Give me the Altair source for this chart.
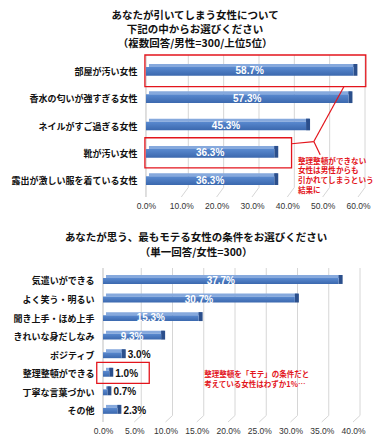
import altair as alt
import pandas as pd

# ---------------- data ----------------
top_title = ["あなたが引いてしまう女性について", "下記の中からお選びください", "（複数回答/男性=300/上位5位）"]
top_categories = ["部屋が汚い女性", "香水の匂いが強すぎる女性", "ネイルがすご過ぎる女性", "靴が汚い女性", "露出が激しい服を着ている女性"]
top_values = [58.7, 57.3, 45.3, 36.3, 36.3]
top_ticks = [0, 10, 20, 30, 40, 50, 60]
top_note = ["整理整頓ができない", "女性は男性からも", "引かれてしまうという", "結果に"]

bottom_title = ["あなたが思う、最もモテる女性の条件をお選びください", "（単一回答/女性=300）"]
bottom_categories = ["気遣いができる", "よく笑う・明るい", "聞き上手・ほめ上手", "きれいな身だしなみ",
                     "ポジティブ", "整理整頓ができる", "丁寧な言葉づかい", "その他"]
bottom_values = [37.7, 30.7, 15.3, 9.3, 3.0, 1.0, 0.7, 2.3]
bottom_ticks = [0, 5, 10, 15, 20, 25, 30, 35, 40]
bottom_note = ["整理整頓を「モテ」の条件だと", "考えている女性はわずか1%…"]

# ---------------- styles ----------------
BLUE_FRONT = alt.Gradient(gradient="linear", x1=0, x2=0, y1=0, y2=1,
                          stops=[alt.GradientStop(color="#5A8AD0", offset=0),
                                 alt.GradientStop(color="#3B68AE", offset=1)])
BLUE_LIGHT = "#86A9DD"
BLUE_SIDE = "#2B4F8C"
RED = "#E3151C"
GRID = "#D6D6D6"
WALL = "#BFBFBF"
JP = "Noto Sans CJK JP"
LAT = "Liberation Sans"
EXTENT = 94


def panel(title, title_pos, title_lh, cats, vals, ticks, xmin, width, height,
          ydom, half, floor_back, label_pad, inside_min, boxes, links, note, note_pos,
          note_size, note_lh, x_label_pad):
    n = len(cats)
    xs = alt.Scale(domain=[xmin, ticks[-1]], nice=False, zero=False)
    ys = alt.Scale(domain=ydom, reverse=True, nice=False, zero=False)
    label_expr = "[" + ",".join(f"'{c}'" for c in cats) + "][datum.value]"
    xa = alt.Axis(values=ticks, labelExpr="format(datum.value, '.1f') + '%'", title=None,
                  grid=False, ticks=False, domain=False, labelFont=LAT, labelFontSize=8.5,
                  labelColor="#333333", labelPadding=x_label_pad, labelFlush=False,
                  labelOverlap=False)
    ya = alt.Axis(values=list(range(n)), labelExpr=label_expr, title=None, grid=False,
                  ticks=False, domain=False, labelFont=JP,
                  labelFontSize=9, labelFontWeight="bold", labelColor="#111111",
                  labelPadding=label_pad, labelLimit=300, labelFlush=False, labelOverlap=False,
                  minExtent=EXTENT, maxExtent=EXTENT)

    def X(f):
        return alt.X(f"{f}:Q", scale=xs, axis=xa)

    def Y(f):
        return alt.Y(f"{f}:Q", scale=ys, axis=ya)

    df = pd.DataFrame({"cat": cats, "value": vals, "idx": list(range(n))})
    df["y0"] = df["idx"] - half
    df["y1"] = df["idx"] + half
    df["mid"] = df["value"] / 2
    df["zero"] = 0.0
    df["label"] = [f"{v:.1f}%" for v in vals]

    g = pd.DataFrame({"v": ticks[1:]})
    g["top"] = ydom[0]
    g["fb"] = floor_back
    g["bot"] = ydom[1]
    wall = pd.DataFrame({"v": [ticks[0]], "top": [ydom[0]], "bot": [ydom[1]]})

    layers = []
    layers.append(alt.Chart(g).mark_rule(color=GRID, strokeWidth=1, xOffset=7)
                  .encode(x=X("v"), y=Y("top"), y2=alt.Y2("fb")))
    layers.append(alt.Chart(g).mark_rule(color=GRID, strokeWidth=1, xOffset=7, x2Offset=0)
                  .encode(x=X("v"), x2=alt.X2("v"), y=Y("fb"), y2=alt.Y2("bot")))
    layers.append(alt.Chart(wall).mark_rule(color=WALL, strokeWidth=1)
                  .encode(x=X("v"), y=Y("top"), y2=alt.Y2("bot")))
    # 3D bar: top face, side face, front face
    layers.append(alt.Chart(df).mark_rect(color=BLUE_LIGHT, xOffset=3, x2Offset=3, yOffset=-3)
                  .encode(x=X("zero"), x2=alt.X2("value"), y=Y("y0"), y2=alt.Y2("y0")))
    layers.append(alt.Chart(df).mark_rect(color=BLUE_SIDE, x2Offset=4, yOffset=-3)
                  .encode(x=X("value"), x2=alt.X2("value"), y=Y("y0"), y2=alt.Y2("y1")))
    layers.append(alt.Chart(df).mark_rect(color=BLUE_FRONT)
                  .encode(x=X("zero"), x2=alt.X2("value"), y=Y("y0"), y2=alt.Y2("y1")))
    ins = df[df["value"] >= inside_min]
    outs = df[df["value"] < inside_min]
    if len(ins):
        layers.append(alt.Chart(ins).mark_text(color="white", font=LAT, fontWeight="bold",
                                               fontSize=10, baseline="middle")
                      .encode(x=X("mid"), y=Y("idx"), text="label:N"))
    if len(outs):
        layers.append(alt.Chart(outs).mark_text(color="#111111", font=LAT, fontWeight="bold",
                                                fontSize=10, baseline="middle", align="left", dx=6)
                      .encode(x=X("value"), y=Y("idx"), text="label:N"))
    bdf = pd.DataFrame(boxes, columns=["x0", "x1", "y0", "y1"])
    layers.append(alt.Chart(bdf).mark_rect(fill="transparent", stroke=RED, strokeWidth=1.3)
                  .encode(x=X("x0"), x2=alt.X2("x1"), y=Y("y0"), y2=alt.Y2("y1")))
    if links:
        ldf = pd.DataFrame(links, columns=["xa", "ya", "xb", "yb"])
        layers.append(alt.Chart(ldf).mark_rule(color=RED, strokeWidth=1.2)
                      .encode(x=X("xa"), y=Y("ya"), x2=alt.X2("xb"), y2=alt.Y2("yb")))
    ndf = pd.DataFrame({"x": [note_pos[0]], "y": [note_pos[1]]})
    layers.append(alt.Chart(ndf).mark_text(text=note, align="left", baseline="top", font=JP,
                                           fontSize=note_size, fontWeight="bold",
                                           lineHeight=note_lh, color=RED)
                  .encode(x=X("x"), y=Y("y")))
    tdf = pd.DataFrame({"x": [title_pos[0]], "y": [title_pos[1]]})
    layers.append(alt.Chart(tdf).mark_text(text=title, align="center", baseline="top", font=JP,
                                           fontSize=10.5, fontWeight="bold",
                                           lineHeight=title_lh, color="#111111")
                  .encode(x=X("x"), y=Y("y")))

    return alt.layer(*layers).properties(width=width, height=height)


top = panel(top_title, (13.9, -2.21), 14, top_categories, top_values, top_ticks, -12.16,
            255, 142, [-0.6, 4.6], 0.16, 4.25, -34, 0,
            [(-0.3, 62.2, -0.6, 0.56), (-0.3, 41.2, 2.43, 3.53)],
            [(56.0, 0.56, 47.5, 2.57), (47.5, 2.57, 41.2, 2.65), (47.5, 2.57, 49.3, 3.05)],
            top_note, (43.0, 3.16), 7.6, 9.7, 4.5)

bottom = panel(bottom_title, (14.9, -2.57), 15, bottom_categories, bottom_values, bottom_ticks,
               0, 250, 154, [-0.7, 7.6], 0.16, 7.25, 9, 5,
               [(-1.0, 7.4, 4.39, 5.52)], [],
               bottom_note, (16.2, 4.86), 7.5, 10, 4.5)

chart = alt.vconcat(top, bottom, spacing=21).properties(
    padding={"top": 2, "left": 0, "right": 0, "bottom": 0},
    background="white").configure_view(stroke="transparent")

chart.save("out.html", embed_options={"renderer": "svg", "actions": False})
